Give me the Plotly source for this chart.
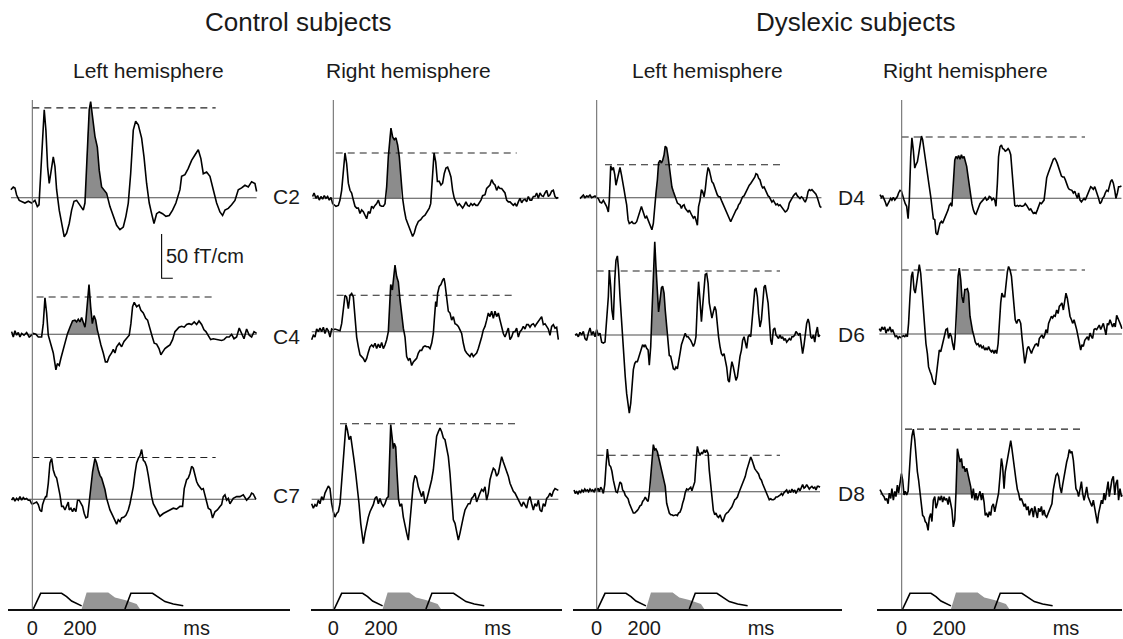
import plotly.graph_objects as go

W, H = 1123, 639
KX = 1 / 4.2      # px per ms
KY = 1 / 1.125    # px per fT/cm

# ---------------- data (time in ms, amplitude in fT/cm) ----------------
C2L_T = [-90,-80,-73,-66,-55,-45,-31,-17,-3,11,21,28,35,42,50,57,64,71,78,88,95,102,113,123,134,144,155,165,175,186,200,214,221,225,231,239,245,253,263,273,281,291,301,312,326,340,354,368,382,393,403,413,424,434,445,459,469,480,491,501,511,522,533,547,561,575,589,603,620,627,641,655,669,683,697,708,718,732,746,760,774,788,799,809,823,837,851,865,879,893,907,921,935,942]
C2L_V = [9,12,11,3,-3,-4,-6,-4,-6,-3,-10,-8,27,72,99,76,35,16,31,46,35,9,-14,-29,-44,-40,-29,-14,-4,-3,-8,-14,-6,16,65,99,108,91,69,57,31,12,9,5,-10,-21,-31,-36,-33,-21,-6,27,76,86,82,67,46,16,-6,-18,-29,-18,-16,-18,-21,-20,-14,-6,9,24,26,33,42,48,54,44,27,29,24,9,-6,-16,-20,-14,-12,-8,-3,9,11,14,12,18,16,7]

C4L_T = [-87,-80,-73,-66,-59,-52,-45,-35,-24,-13,-3,4,15,25,39,46,53,60,67,74,81,88,95,99,105,113,120,127,134,141,148,158,169,179,186,193,200,207,214,221,225,231,238,245,252,259,266,273,281,288,298,307,315,323,333,340,347,354,365,375,385,396,407,414,421,428,438,448,456,466,476,484,494,504,512,522,532,540,547,557,567,578,589,599,606,616,627,638,648,658,669,680,690,700,711,721,729,739,749,760,774,785,795,805,816,827,837,847,858,869,879,889,900,911,921,931,942]
C4L_V = [3,-3,4,-1,2,-3,1,-1,2,-3,-1,1,0,-3,-3,12,41,24,-1,-8,-12,-21,-33,-40,-33,-35,-27,-20,-10,-3,1,8,15,16,14,17,14,19,12,8,16,31,56,31,12,21,16,5,-6,-12,-21,-31,-31,-25,-21,-17,-21,-14,-10,-14,-8,-5,-1,12,31,36,31,33,27,24,18,16,5,-3,-10,-11,-16,-23,-20,-16,-14,-12,-6,3,5,8,9,8,11,12,11,14,11,15,11,5,3,-1,-6,-5,-6,-6,-7,-6,-3,-3,0,-5,-3,7,1,-5,6,-1,-3,3,1]

C7L_T = [-87,-80,-73,-66,-59,-52,-45,-38,-31,-24,-17,-10,-3,4,11,18,25,32,39,43,49,56,60,67,74,81,88,95,102,109,116,123,130,137,144,151,155,162,169,175,183,190,197,204,211,218,225,232,239,245,253,263,270,277,284,291,298,305,312,319,326,337,347,354,361,368,375,385,393,403,410,417,424,431,438,445,452,459,466,473,480,487,494,501,508,515,522,529,536,550,564,578,592,606,620,631,638,648,655,662,669,676,683,690,697,704,711,718,725,732,739,749,757,767,777,788,795,802,809,816,823,830,837,844,858,872,886,900,907,914,921,928,939]
C7L_V = [-1,2,-2,1,-1,3,-1,2,0,1,-1,-1,-5,-5,-4,-3,-6,-12,-14,-6,-1,3,3,18,41,46,33,27,24,16,5,-8,-8,-12,-8,-3,-12,-10,-14,-10,-14,-1,-1,-5,-8,-16,-21,-20,-1,16,31,46,41,33,27,24,18,11,1,-6,-12,-18,-23,-28,-23,-25,-21,-20,-18,-12,-5,3,14,29,41,46,49,56,44,42,37,27,14,3,-5,-8,-12,-16,-19,-16,-14,-12,-10,-11,-8,-8,12,22,24,29,37,35,27,20,16,14,11,12,5,-1,-10,-12,-21,-14,-12,-8,-6,3,5,-1,1,-5,-1,1,3,3,5,-1,1,3,7,6,0]

C2R_T = [-87,-81,-73,-66,-59,-52,-45,-38,-31,-24,-17,-10,-3,4,11,21,28,35,42,49,56,63,70,77,84,91,98,105,112,119,126,133,140,147,154,161,168,175,182,189,196,203,210,217,224,231,238,242,249,256,263,270,277,284,291,298,305,312,319,326,333,340,347,357,367,375,385,395,403,409,413,417,423,430,437,445,452,459,466,473,480,487,494,501,508,515,522,529,536,543,550,557,564,571,578,585,592,599,606,613,620,627,637,644,651,658,665,672,679,686,693,700,707,714,721,728,735,742,749,756,763,770,777,784,791,798,805,812,819,826,833,840,847,854,861,868,875,882,889,896,903,910,917,924,931,938,945]
C2R_V = [2,6,0,3,-2,2,-1,3,0,2,-2,1,-6,-8,-9,-8,-2,9,32,51,39,17,9,6,-2,-9,-11,-11,-17,-13,-15,-19,-23,-15,-17,-9,-11,-8,-6,-2,-8,-9,-9,-6,13,47,73,79,69,66,68,60,47,21,0,-13,-23,-28,-32,-38,-43,-39,-32,-26,-24,-21,-19,-15,-11,-6,9,28,51,41,19,19,15,17,28,34,35,30,24,9,0,-4,-8,-6,-9,-11,-8,-4,-8,-9,-6,-8,-6,-8,-8,-5,-2,3,4,11,13,15,21,17,15,9,13,11,11,9,6,-2,-4,-4,-6,-8,-6,-9,-4,0,-5,-2,-1,-4,2,-2,-2,2,2,6,0,6,3,2,6,9,2,4,8,9,2,0,1]

C4R_T = [-91,-84,-77,-70,-63,-56,-49,-42,-35,-28,-21,-14,-7,0,7,28,35,42,49,56,63,70,77,84,91,98,105,112,119,126,133,140,147,154,161,168,175,182,189,196,203,210,217,224,231,235,241,248,255,259,266,273,280,287,294,301,308,315,322,329,336,343,350,357,364,371,378,385,392,399,406,413,420,424,430,434,438,445,452,459,465,469,476,483,490,497,504,511,518,525,532,539,546,553,560,567,574,581,588,595,602,609,616,623,630,637,644,651,658,665,672,679,686,693,700,707,714,721,728,735,742,749,756,763,770,777,784,791,798,805,812,819,826,833,840,847,854,861,868,875,882,889,896,903,910,917,924,931,938,945]
C4R_V = [-9,-4,-6,3,0,4,0,5,-2,4,1,-6,3,2,3,1,9,24,41,39,26,41,43,39,13,-6,-17,-26,-28,-30,-34,-30,-23,-17,-15,-17,-13,-19,-14,-18,-12,-19,-15,-9,0,28,53,47,62,75,62,56,36,17,4,-6,-28,-32,-30,-38,-34,-32,-30,-24,-21,-21,-17,-16,-17,-17,-19,-13,-2,13,34,28,43,51,53,58,60,54,36,23,21,13,17,9,8,6,2,-2,-13,-21,-24,-26,-28,-24,-28,-26,-24,-19,-13,-6,2,6,13,21,17,23,15,23,17,21,13,4,-2,-6,0,4,-9,-6,0,0,4,-6,0,2,6,3,8,8,5,8,9,6,9,12,15,17,8,9,6,3,-4,6,8,4,5,-9]

C7R_T = [-91,-84,-77,-70,-63,-56,-49,-42,-35,-28,-21,-14,-7,0,7,14,21,28,35,42,49,53,59,66,73,80,87,94,101,108,115,122,126,133,140,147,154,161,168,175,182,189,196,203,210,217,224,231,235,241,248,252,256,262,266,270,274,280,287,294,301,308,315,322,329,336,343,350,357,364,371,378,385,392,399,406,413,420,427,434,441,448,455,462,469,476,483,490,497,504,511,518,525,532,539,546,553,560,567,574,581,588,595,602,609,616,623,630,637,644,651,658,665,672,679,686,693,700,707,714,721,728,735,742,749,756,763,770,777,784,791,798,805,812,819,826,833,840,847,854,861,868,875,882,889,896,903,910,917,924,931,938,945]
C7R_V = [-5,-10,-6,-8,-1,-5,3,-1,7,12,15,12,-5,-14,-20,-16,-14,-5,22,48,74,84,78,67,71,59,44,29,14,-5,-27,-46,-50,-38,-27,-20,-14,-10,-6,1,3,-5,1,-5,-8,-5,1,3,37,84,67,57,63,59,37,14,0,-8,-5,-20,-31,-38,-46,-23,-1,18,27,24,14,7,3,9,-5,-1,7,12,22,33,56,71,76,80,76,69,67,59,48,29,-1,-23,-27,-38,-46,-38,-27,-20,-12,-8,-5,-5,1,3,7,-3,3,7,11,9,14,-1,7,22,29,35,33,26,29,41,48,42,37,33,26,18,14,9,7,3,-1,-5,-8,-3,-6,-10,-1,3,-5,-12,-5,-8,-1,-12,-14,-5,-8,1,3,7,3,9,12,11,10]

D4L_T = [-70,-63,-56,-49,-42,-35,-28,-21,-14,-7,0,7,14,21,28,35,42,49,53,59,64,70,76,81,87,92,98,104,109,115,120,126,132,137,143,148,154,161,168,175,182,188,193,199,204,210,216,221,227,232,238,244,249,255,260,266,272,277,283,288,294,300,305,311,316,322,328,333,339,344,350,356,361,367,372,378,384,389,395,400,406,412,417,423,428,434,440,445,451,456,462,468,473,479,484,490,496,501,507,512,518,524,529,535,540,546,552,557,563,568,574,580,585,591,596,602,608,613,619,624,630,636,641,647,652,658,664,669,675,680,686,692,697,703,708,714,720,725,731,736,742,748,753,759,764,770,776,781,787,792,798,804,809,815,820,826,832,837,843,848,854,860,865,871,876,882,888,893,899,904,910,916,921,927,932,938,944]
D4L_V = [-1,1,3,0,2,1,3,0,1,2,0,-1,-5,-6,-3,-6,-10,-16,-3,36,31,34,26,14,21,27,34,26,16,9,1,-8,-25,-29,-28,-27,-29,-29,-27,-21,-16,-10,-14,-20,-23,-21,-25,-27,-33,-36,-29,-6,5,20,39,42,39,42,48,58,56,46,37,24,12,7,2,-3,-6,-7,-8,-12,-9,-8,-12,-14,-16,-14,-18,-20,-23,-21,-25,-31,-10,-3,9,7,1,9,24,34,31,24,18,16,11,7,3,1,1,-3,-6,-10,-14,-18,-20,-23,-27,-24,-20,-18,-14,-12,-8,-6,-2,1,2,5,7,12,14,16,18,21,23,27,26,22,20,14,11,12,9,5,2,1,-2,-5,-3,-6,-8,-7,-9,-8,-10,-12,-14,-16,-15,-12,-6,-3,0,2,4,5,2,0,-1,1,0,-3,-5,-1,7,9,8,9,7,5,4,0,-6,-10,-11]

D6L_T = [-91,-84,-77,-70,-63,-56,-49,-42,-35,-28,-21,-14,-7,0,7,14,21,28,35,42,49,53,59,64,70,76,81,87,92,98,104,109,115,120,126,132,137,143,148,154,160,165,171,176,182,188,193,199,204,210,216,221,227,232,238,244,249,255,260,266,272,277,283,288,294,300,305,311,316,322,328,333,339,344,350,356,361,367,372,378,384,389,395,400,406,412,417,423,428,434,440,445,451,456,462,468,473,479,484,490,496,501,507,512,518,524,529,535,540,546,552,557,563,568,574,580,585,591,596,602,608,613,619,624,630,636,641,647,652,658,664,669,675,680,686,692,697,703,708,714,720,725,731,736,742,748,753,759,764,770,776,781,787,792,798,804,809,815,820,826,832,837,843,848,854,860,865,871,876,882,888,893,899,904,910,916,921,927,932,938]
D6L_V = [0,1,-2,3,0,4,-4,-6,2,8,0,4,-2,6,0,2,-8,-9,-8,17,43,73,54,28,17,62,84,89,73,43,17,-9,-28,-47,-66,-81,-88,-77,-54,-39,-32,-30,-30,-26,-21,-17,-11,-13,-11,-15,-17,-34,-13,24,73,105,77,43,26,39,53,55,47,28,9,-6,-23,-24,-32,-38,-39,-36,-38,-32,-21,-11,-6,0,2,-2,-2,-4,-6,-9,-13,-9,-2,36,60,39,15,32,58,68,69,58,36,23,19,26,32,28,9,-2,-13,-21,-23,-21,-28,-36,-51,-53,-39,-30,-36,-45,-51,-47,-36,-24,-17,-6,-2,-9,-15,-2,0,-2,13,36,51,53,43,24,9,17,39,54,56,47,36,17,-6,-11,6,8,0,-2,-4,0,-4,-2,-6,-4,-8,-6,-4,-6,-2,-2,0,4,2,0,2,-8,-21,-11,2,13,18,13,-2,-4,0,-8,2,9,-2,0]

D8L_T = [-95,-90,-84,-78,-73,-67,-62,-56,-50,-45,-39,-34,-28,-22,-17,-11,-6,0,6,11,17,22,28,34,39,45,49,53,59,64,70,76,81,87,92,98,104,109,115,120,126,132,137,143,148,154,160,165,171,176,182,188,193,199,204,210,216,221,227,232,238,244,249,255,260,266,272,277,283,288,294,300,305,311,316,322,328,333,339,344,350,356,361,367,372,378,384,389,395,400,406,412,417,423,428,434,440,445,451,456,462,468,473,479,484,490,496,501,507,512,518,524,529,535,540,546,552,557,563,568,574,580,585,591,596,602,608,613,619,624,630,636,641,647,652,658,664,669,675,680,686,692,697,703,708,714,720,725,731,736,742,748,753,759,764,770,776,781,787,792,798,804,809,815,820,826,832,837,843,848,854,860,865,871,876,882,888,893,899,904,910,916,921,927,932,938]
D8L_V = [2,-2,0,-3,1,-1,2,0,3,1,2,0,3,1,2,0,3,1,4,0,5,3,-2,8,28,48,39,30,28,23,13,4,0,-1,5,11,9,2,0,-4,-6,-8,-13,-17,-21,-24,-24,-23,-21,-19,-16,-15,-11,-9,-6,-9,-11,-2,17,39,53,47,48,45,39,34,28,21,13,6,-13,-21,-24,-26,-26,-27,-26,-26,-27,-24,-23,-19,-13,-8,-1,3,2,4,5,1,6,11,32,51,45,41,44,43,47,44,47,43,24,6,-6,-21,-26,-24,-28,-29,-26,-32,-34,-30,-26,-24,-23,-21,-19,-17,-13,-9,-8,-6,-2,2,5,8,13,17,24,30,36,39,36,30,26,24,21,20,15,13,9,5,2,-2,-6,-9,-8,-9,-9,-8,-6,-6,-5,-4,-2,-4,-1,0,2,-2,1,-1,3,0,2,-2,1,4,1,6,8,4,5,8,6,3,5,6,4,5,2,6,6,5]

D4R_T = [-91,-85,-80,-74,-69,-63,-57,-52,-46,-41,-35,-29,-24,-18,-13,-7,-1,4,10,15,21,27,32,38,43,49,55,60,66,71,77,83,88,94,99,105,111,116,122,127,133,139,144,150,155,161,167,172,178,183,189,195,200,206,211,217,223,228,234,239,245,251,256,262,267,273,279,284,290,295,301,307,312,318,323,329,335,340,346,351,357,363,368,374,379,385,391,396,402,407,413,419,424,430,435,441,447,452,458,463,469,475,480,486,491,497,503,508,514,519,525,531,536,542,547,553,559,564,570,575,581,587,592,598,603,609,615,620,626,631,637,643,648,654,659,665,671,676,682,687,693,699,704,710,715,721,727,732,738,743,749,755,760,766,771,777,783,788,794,799,805,811,816,822,827,833,839,844,850,855,861,867,872,878,883,889,895,900,906,911,917,923]
D4R_V = [4,1,3,0,-4,-9,-6,-4,0,-2,1,-2,0,2,6,9,8,2,-2,-6,-9,-23,-2,47,68,54,34,38,41,49,62,70,66,54,41,30,23,13,2,-13,-23,-24,-39,-41,-34,-28,-26,-28,-24,-21,-17,-13,-8,-6,-9,17,43,47,45,48,44,49,45,47,42,36,24,13,2,-6,-13,-17,-18,-13,-9,-6,-4,-2,0,1,-2,-1,2,1,-2,0,-2,-9,17,47,58,60,56,55,53,54,56,54,49,32,13,-8,-9,-8,-9,-8,-9,-9,-8,-6,-8,-11,-13,-12,-15,-17,-16,-17,-13,-8,-5,-6,-4,-2,9,23,28,32,36,39,44,45,43,39,34,28,25,24,24,21,15,12,10,9,9,6,8,4,0,6,-2,-4,-2,0,-2,2,4,8,13,12,10,13,9,6,0,-6,-4,0,2,6,9,8,15,19,21,17,9,0,6,13,13,14]

D6R_T = [-94,-88,-83,-77,-71,-66,-60,-55,-49,-43,-38,-32,-27,-21,-15,-10,-4,1,7,13,18,24,29,35,41,46,52,57,63,69,74,80,85,91,97,102,108,113,119,125,130,136,141,147,153,158,164,169,175,181,186,192,197,203,209,214,220,225,231,237,242,248,253,259,265,270,276,281,287,293,298,304,309,315,321,326,332,337,343,349,354,360,365,371,377,382,388,393,399,405,410,416,421,427,433,438,444,449,455,461,466,472,477,483,489,494,500,505,511,517,522,528,533,539,545,550,556,561,567,573,578,584,589,595,601,606,612,617,623,629,634,640,645,651,657,662,668,673,679,685,690,696,701,707,713,718,724,729,735,741,746,752,757,763,769,774,780,785,791,797,802,808,813,819,825,830,836,841,847,853,858,864,869,875,881,886,892,897,903,909,914,920,925]
D6R_V = [6,3,8,5,8,1,5,4,8,2,5,-1,-3,-2,-5,-3,-4,-3,-2,-3,-1,-3,12,42,65,70,50,46,57,72,78,68,50,27,5,-11,-22,-37,-42,-46,-52,-56,-57,-44,-26,-18,-20,-14,-7,-3,5,6,-5,1,-3,-11,-18,-3,38,65,74,61,42,35,50,50,51,46,20,8,3,-3,-9,-12,-11,-14,-12,-16,-14,-18,-16,-18,-14,-18,-20,-18,-22,-18,-22,-11,12,35,46,42,42,57,70,76,72,65,50,31,16,12,16,16,12,-3,-22,-33,-26,-16,-14,-18,-22,-18,-14,-12,-11,-14,-5,-3,-1,-5,-1,5,1,12,16,20,18,21,20,27,23,31,33,35,27,38,46,40,31,20,16,12,16,12,5,-3,-11,-18,-12,-14,-7,-5,-3,-7,1,-3,-5,5,6,5,8,10,5,8,12,5,-1,12,10,16,12,8,12,8,21,16,14,10,6]

D8R_T = D4R_T + [928]
D8R_V = [5,1,-1,-3,-7,-5,-11,1,-5,6,-7,3,-3,10,1,12,23,16,-1,3,-1,3,31,50,65,73,61,42,25,16,1,-18,-24,-26,-31,-33,-41,-27,-22,-31,-7,-3,-16,-11,-3,-7,-2,-9,-3,-7,-5,-12,-3,-11,-18,-37,-29,1,51,44,36,40,29,31,25,29,21,14,8,-5,6,-7,1,-7,-3,3,-7,1,-9,-24,-22,-26,-20,-24,-14,-11,-20,-12,-3,1,20,40,31,6,25,35,46,53,60,51,36,25,16,5,1,-7,-5,-9,-14,-11,-18,-14,-24,-18,-16,-26,-14,-20,-27,-16,-20,-14,-24,-18,-24,-26,-22,-18,-14,-11,5,16,21,23,20,8,1,10,20,25,36,42,50,46,48,38,18,6,3,-3,5,14,1,-7,-1,8,-3,-7,-11,-14,-7,-18,-24,-33,-22,-14,-7,-11,1,-7,5,14,-3,6,16,20,-1,12,16,-7,6,-3,-1]

# stimulus envelopes (ms, relative amplitude)
STIM1_T = [4, 35, 123, 144, 165, 186, 207]
STIM1_V = [0, 1, 1, 0.79, 0.51, 0.36, 0.2]
STIM2_T = [207, 228, 319, 347, 389, 417, 438, 452]
STIM2_V = [0, 1.05, 1.05, 0.74, 0.57, 0.4, 0.32, 0]
STIM3_T = [389, 414, 505, 529, 557, 592, 634]
STIM3_V = [0, 1, 1, 0.74, 0.47, 0.32, 0.21]

TICK_MS = [0, 200, 690]
TICK_TEXT = ["0", "200", "ms"]

SCALE_BAR_FT = 50
DASH_END_MS = 770

# panel specs: name, column, baseline(px), T, V, dashed level, dashed start, shade window
PANELS = [
    ("C2", 0, 197.7, C2L_T, C2L_V, 101, 0, (223, 316)),
    ("C4", 0, 334.3, C4L_T, C4L_V, 42, 18, (146, 276)),
    ("C7", 0, 499.3, C7L_T, C7L_V, 47, 0, (239, 314)),
    ("C2R", 1, 198.3, C2R_T, C2R_V, 51, 10, (220, 284)),
    ("C4R", 1, 331.7, C4R_T, C4R_V, 41, 14, (231, 297)),
    ("C7R", 1, 499.3, C7R_T, C7R_V, 85, 28, (231, 274)),
    ("D4", 2, 197.7, D4L_T, D4L_V, 37, 35, (246, 329)),
    ("D6", 2, 335.0, D6L_T, D6L_V, 72, 0, (229, 297)),
    ("D8", 2, 491.7, D8L_T, D8L_V, 41, 0, (223, 290)),
    ("D4R", 3, 198.3, D4R_T, D4R_V, 69, 0, (213, 291)),
    ("D6R", 3, 334.0, D6R_T, D6R_V, 72, 0, (226, 301)),
    ("D8R", 3, 494.0, D8R_T, D8R_V, 73, 14, (228, 293)),
]

COL_X0 = [32.33, 333.33, 596.67, 901.67]
COL_TMAX = [1000, 1000, 1000, 928]
STIM_SPAN = [(8, 290), (311, 562), (573, 842), (877, 1122)]
STIM_BASE, STIM_UNIT = 609, 15.7

FONT = "Liberation Sans, Arial, Helvetica, sans-serif"
TXT = "#1a1a1a"

fig = go.Figure()
layout = {}
counter = [0]


def new_axes(xdom, xrng, ydom, yrng, xkw=None):
    counter[0] += 1
    n = counter[0]
    sfx = "" if n == 1 else str(n)
    xa = dict(domain=xdom, range=xrng, visible=False, fixedrange=True)
    ya = dict(domain=ydom, range=yrng, visible=False, fixedrange=True, anchor="x" + sfx)
    xa["anchor"] = "y" + sfx
    if xkw:
        xa.update(xkw)
    layout["xaxis" + sfx] = xa
    layout["yaxis" + sfx] = ya
    return "x" + sfx, "y" + sfx


def py2p(py):
    return 1 - py / H


first_axes = {}
for name, col, base, T, V, lvl, dstart, (s0, s1) in PANELS:
    x0 = COL_X0[col]
    tmax = COL_TMAX[col]
    xdom = [(x0 - 100 * KX) / W, min(1.0, (x0 + tmax * KX) / W)]
    top_px, bot_px = base - 135, base + 95
    ydom = [py2p(bot_px), py2p(top_px)]
    yrng = [-(bot_px - base) / KY, (base - top_px) / KY]
    xr, yr = new_axes(xdom, [-100, tmax], ydom, yrng)
    first_axes.setdefault(col, (xr, yr))

    st = [t for t in T if s0 <= t <= s1]
    sv = [v for t, v in zip(T, V) if s0 <= t <= s1]
    fig.add_trace(go.Scatter(x=st, y=sv, xaxis=xr, yaxis=yr, mode="lines",
                             fill="tozeroy", fillcolor="rgb(140,140,140)",
                             line=dict(width=0), hoverinfo="skip"))
    fig.add_trace(go.Scatter(x=[T[0], T[-1]], y=[0, 0], xaxis=xr, yaxis=yr, mode="lines",
                             line=dict(color="#4d4d4d", width=1.1), hoverinfo="skip"))
    fig.add_trace(go.Scatter(x=[dstart, DASH_END_MS], y=[lvl, lvl], xaxis=xr, yaxis=yr,
                             mode="lines", line=dict(color="#222", width=1.1, dash="7px,5px"),
                             hoverinfo="skip"))
    fig.add_trace(go.Scatter(x=T, y=V, xaxis=xr, yaxis=yr, mode="lines",
                             line=dict(color="black", width=1.6), hoverinfo="skip"))

# scale bar in first panel
xr, yr = first_axes[0]
bar_t, bar_bottom = 543, -90.7
fig.add_trace(go.Scatter(x=[bar_t, bar_t, bar_t + 47],
                         y=[bar_bottom + SCALE_BAR_FT, bar_bottom, bar_bottom],
                         xaxis=xr, yaxis=yr, mode="lines",
                         line=dict(color="black", width=1.1), hoverinfo="skip"))

annotations = [dict(x=bar_t + 10, y=bar_bottom + SCALE_BAR_FT / 2, xref=xr, yref=yr,
                    text="50 fT/cm", showarrow=False, xanchor="left", yanchor="middle",
                    font=dict(family=FONT, size=20, color=TXT))]

shapes = []
# stimulus panels and vertical zero lines
for col in range(4):
    x0 = COL_X0[col]
    a, b = STIM_SPAN[col]
    xrng = [(a - x0) / KX, (b - x0) / KX]
    ydom = [py2p(STIM_BASE), py2p(STIM_BASE - 20)]
    yrng = [0, 20 / STIM_UNIT]
    xkw = dict(visible=True, showline=True, linecolor="#111", linewidth=1.6,
               showgrid=False, zeroline=False, ticks="", tickvals=TICK_MS,
               ticktext=TICK_TEXT, tickfont=dict(family=FONT, size=20, color=TXT))
    sx, sy = new_axes([a / W, b / W], xrng, ydom, yrng, xkw)
    fig.add_trace(go.Scatter(x=STIM2_T, y=STIM2_V, xaxis=sx, yaxis=sy, mode="lines",
                             fill="toself", fillcolor="rgb(150,150,150)",
                             line=dict(width=0), hoverinfo="skip"))
    for tt, vv in ((STIM1_T, STIM1_V), (STIM3_T, STIM3_V)):
        fig.add_trace(go.Scatter(x=tt, y=vv, xaxis=sx, yaxis=sy, mode="lines",
                                 line=dict(color="black", width=1.6), hoverinfo="skip"))
    fx, fy = first_axes[col]
    shapes.append(dict(type="line", xref=fx, yref="paper", x0=0, x1=0,
                       y0=py2p(STIM_BASE), y1=py2p(100),
                       line=dict(color="#707070", width=1.1)))

# texts
def ann(text, xpx, ypx, size):
    annotations.append(dict(x=xpx / W, y=py2p(ypx), xref="paper", yref="paper", text=text,
                            showarrow=False, xanchor="center", yanchor="middle",
                            font=dict(family=FONT, size=size, color=TXT)))

ann("Control subjects", 298, 22, 26)
ann("Dyslexic subjects", 855, 22, 26)
for txt, xp in (("Left hemisphere", 148), ("Right hemisphere", 408),
                ("Left hemisphere", 708), ("Right hemisphere", 965)):
    ann(txt, xp, 70, 21)
for txt, xp, yp in (("C2", 286, 196), ("C4", 286, 336), ("C7", 286, 495),
                    ("D4", 851, 197), ("D6", 851, 334), ("D8", 851, 494)):
    ann(txt, xp, yp, 21)

fig.update_layout(width=W, height=H, margin=dict(l=0, r=0, t=0, b=0),
                  paper_bgcolor="white", plot_bgcolor="rgba(0,0,0,0)",
                  showlegend=False, annotations=annotations, shapes=shapes, **layout)
fig.write_html("out.html")
